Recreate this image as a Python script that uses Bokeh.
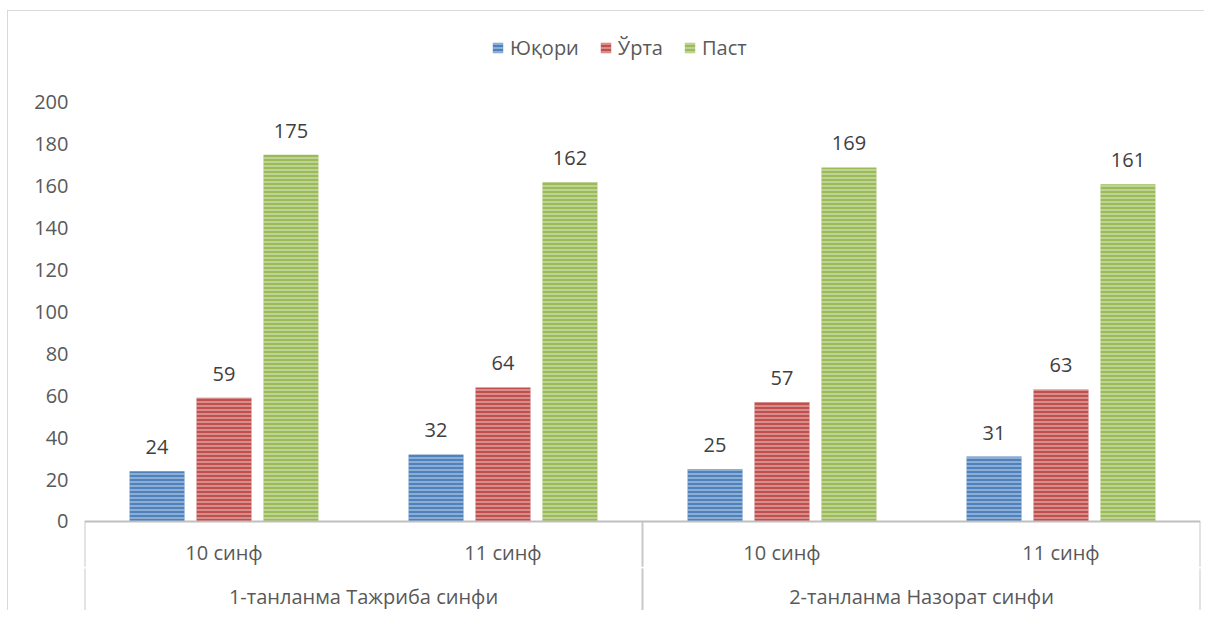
from bokeh.plotting import figure
from bokeh.models import (ColumnDataSource, FactorRange, Range1d, FixedTicker,
                          Span, Legend, LegendItem, InlineStyleSheet)
from bokeh.transform import dodge
from bokeh.core.properties import value
from bokeh.embed import file_html
from bokeh.resources import INLINE

# ---------------- data ----------------
groups = ["1-танланма Тажриба синфи", "2-танланма Назорат синфи"]
classes = ["10 синф", "11 синф"]
series = ["Юқори", "Ўрта", "Паст"]
yuqori = [24, 32, 25, 31]
urta = [59, 64, 57, 63]
past = [175, 162, 169, 161]
y_ticks = [0, 20, 40, 60, 80, 100, 120, 140, 160, 180, 200]

colors = ["#4F81BD", "#C0504D", "#9BBB59"]
FONT = "Open Sans"
TXT = "#595959"
FS = "20px"

factors = [(g, c) for g in groups for c in classes]
src = ColumnDataSource(dict(
    x=factors,
    s0=yuqori, s1=urta, s2=past,
    l0=[str(v) for v in yuqori], l1=[str(v) for v in urta], l2=[str(v) for v in past],
))

p = figure(width=1197, height=600,
           x_range=FactorRange(*factors, group_padding=0, factor_padding=0, range_padding=0),
           y_range=Range1d(-42.96, 243.4),
           output_backend="svg", toolbar_location=None, x_axis_location=None,
           min_border_left=76, min_border_right=5, min_border_top=0, min_border_bottom=0)
p.margin = (10, 0, 0, 7)
p.stylesheets = [InlineStyleSheet(css=":host { border-top: 1px solid #D9D9D9; border-left: 1px solid #D9D9D9; }")]
p.outline_line_color = None
p.xgrid.visible = False
p.ygrid.visible = False

p.yaxis.ticker = FixedTicker(ticks=y_ticks)
p.yaxis.axis_line_color = None
p.yaxis.major_tick_line_color = None
p.yaxis.minor_tick_line_color = None
p.yaxis.major_label_text_font = FONT
p.yaxis.major_label_text_font_size = FS
p.yaxis.major_label_text_color = TXT
p.yaxis.major_label_standoff = 10

offsets = [-0.24, 0.0, 0.24]
items = []
for i, (name, col) in enumerate(zip(series, colors)):
    r = p.vbar(x=dodge("x", offsets[i], range=p.x_range), top=f"s{i}", bottom=0,
               width=0.197, source=src, fill_color=col, line_color=None,
               hatch_pattern="horizontal_line", hatch_color="white",
               hatch_alpha=0.5, hatch_scale=4, hatch_weight=1.4)
    items.append(LegendItem(label=name, renderers=[r]))
    p.text(x=dodge("x", offsets[i], range=p.x_range), y=f"s{i}", text=f"l{i}",
           source=src, text_align="center", text_baseline="alphabetic", y_offset=-24,
           text_font=value(FONT), text_font_size=FS, text_color="#404040")

# x-axis line at 0
p.add_layout(Span(location=0, dimension="width", line_color="#BFBFBF", line_width=2))

# category separators
left_src = ColumnDataSource(dict(x=[factors[0], factors[2]]))
right_src = ColumnDataSource(dict(x=[factors[3]]))
for s, off in [(left_src, -0.5), (right_src, 0.5)]:
    xd = dodge("x", off, range=p.x_range)
    p.segment(x0=xd, x1=xd, y0=0, y1=-21.6, source=s, line_color="#C8C8C8", line_width=2)
    p.segment(x0=xd, x1=xd, y0=-22.4, y1=-60, source=s, line_color="#C8C8C8", line_width=2)

# category labels
cls_src = ColumnDataSource(dict(x=factors, t=[c for g, c in factors]))
p.text(x="x", y=-14.8, text="t", source=cls_src, text_align="center", text_baseline="middle",
       text_font=value(FONT), text_font_size=FS, text_color=TXT)
grp_src = ColumnDataSource(dict(x=groups, t=groups))
p.text(x="x", y=-36.0, text="t", source=grp_src, text_align="center", text_baseline="middle",
       text_font=value(FONT), text_font_size=FS, text_color=TXT)

legend = Legend(items=items, location=(407, 550), orientation="horizontal",
                glyph_width=13, glyph_height=13, label_standoff=6, spacing=20,
                padding=0, margin=0, border_line_color=None, background_fill_alpha=0,
                label_text_font=FONT, label_text_font_size=FS, label_text_color=TXT)
p.add_layout(legend)

open("out.html", "w").write(file_html(p, INLINE))
